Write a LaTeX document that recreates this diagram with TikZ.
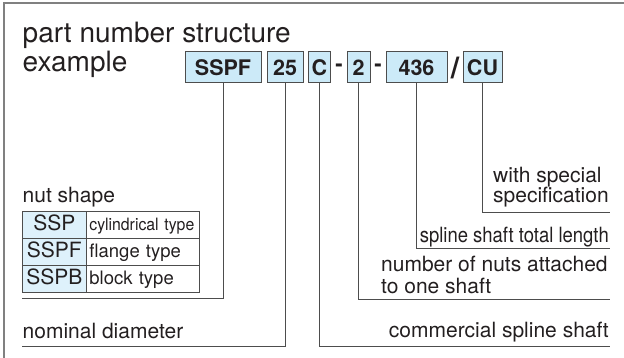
\documentclass[tikz,border=0pt]{standalone}
\usepackage{fontspec}
\setmainfont{TeX Gyre Heros}
\definecolor{ink}{HTML}{231F20}
\definecolor{rulecol}{HTML}{4D4D4D}
\definecolor{framecol}{HTML}{808080}
\definecolor{boxblue}{RGB}{204,234,248}
\definecolor{cellblue}{RGB}{222,241,251}
\tikzset{
  codebox/.style={draw=rulecol, fill=boxblue, line width=1pt, inner sep=0pt,
    minimum height=31pt, text=ink, font=\fontsize{21.5}{22}\selectfont\bfseries},
  sepmark/.style={inner sep=0pt, text=ink, font=\fontsize{22}{22}\selectfont\bfseries},
  conn/.style={draw=rulecol, line width=1pt},
  lbl/.style={inner sep=0pt, text=ink, font=\fontsize{21}{21}\selectfont},
  ttl/.style={inner sep=0pt, text=ink, font=\fontsize{28}{29.5}\selectfont},
  cellL/.style={draw=rulecol, fill=cellblue, line width=0.8pt, anchor=north west,
    inner sep=0pt, text width=64pt, align=center, text height=19pt, text depth=8pt,
    text=ink, font=\fontsize{21}{21}\selectfont},
  cellR/.style={draw=rulecol, line width=0.8pt, anchor=north west,
    inner ysep=0pt, inner xsep=3pt, text width=107pt, align=left, text height=19pt, text depth=8pt,
    text=ink, font=\fontsize{18.5}{18.5}\selectfont},
}
\begin{document}
\begin{tikzpicture}[x=1pt,y=-1pt]
\useasboundingbox (0,0) rectangle (624,358);
% frame
\draw[framecol, line width=1.5pt] (4,359) -- (4,3) -- (625,3);

% title
\node[ttl, anchor=base west] (title1) at (22.5,42.5) {part number structure};
\node[ttl, anchor=base west] (title2) at (22.5,72) {example};

% code boxes
\node[codebox, minimum width=76pt] (sspf) at (223,67.5) {SSPF};
\node[codebox, minimum width=36pt] (n25) at (285,67.5) {25};
\node[codebox, minimum width=22pt] (nc) at (319.5,67.5) {C};
\node[sepmark] (d1) at (339,68) {-};
\node[codebox, minimum width=23pt] (n2) at (358.5,67.5) {2};
\node[sepmark] (d2) at (378,68) {-};
\node[codebox, minimum width=61pt] (n436) at (416.5,67.5) {436};
\node[sepmark, font=\fontsize{30}{30}\selectfont\bfseries] (sl) at (455,68) {/};
\node[codebox, minimum width=39pt] (ncu) at (482.5,67.5) {CU};

% nut shape table
\node[lbl, anchor=base west] (nuts) at (22.5,203) {nut shape};
\node[cellL] (t1a) at (22,211) {SSP};
\node[cellR] (t1b) at (86,211) {\scalebox{0.93}[1]{\fontsize{17}{17}\selectfont cylindrical type}};
\node[cellL] (t2a) at (22,238) {SSPF};
\node[cellR] (t2b) at (86,238) {flange type};
\node[cellL] (t3a) at (22,265) {SSPB};
\node[cellR] (t3b) at (86,265) {block type};

% labels
\node[lbl, anchor=base west] (nomd) at (22.5,338) {nominal diameter};
\node[lbl, anchor=base east] (coms) at (609,337) {commercial spline shaft};
\node[lbl, anchor=base west] (numn1) at (381,272) {number of nuts attached};
\node[lbl, anchor=base west] (numn2) at (381,293) {to one shaft};
\node[lbl, anchor=base east] (tlen) at (609,243) {\scalebox{0.88}[1]{spline shaft total length}};
\node[lbl, anchor=base west] (spec1) at (493,183) {with special};
\node[lbl, anchor=base west] (spec2) at (493,203) {specification};

% connector ends
\coordinate (nutEnd) at (22,298);
\coordinate (nomEnd) at (22,346);
\coordinate (comEnd) at (610,346);
\coordinate (numEnd) at (610,299);
\coordinate (lenEnd) at (610,249);
\coordinate (speEnd) at (610,213);

\draw[conn] (sspf.south) |- (nutEnd);
\draw[conn] (n25.south) |- (nomEnd);
\draw[conn] (nc.south) |- (comEnd);
\draw[conn] (n2.south) |- (numEnd);
\draw[conn] (n436.south) |- (lenEnd);
\draw[conn] (ncu.south) |- (speEnd);
\end{tikzpicture}
\end{document}
